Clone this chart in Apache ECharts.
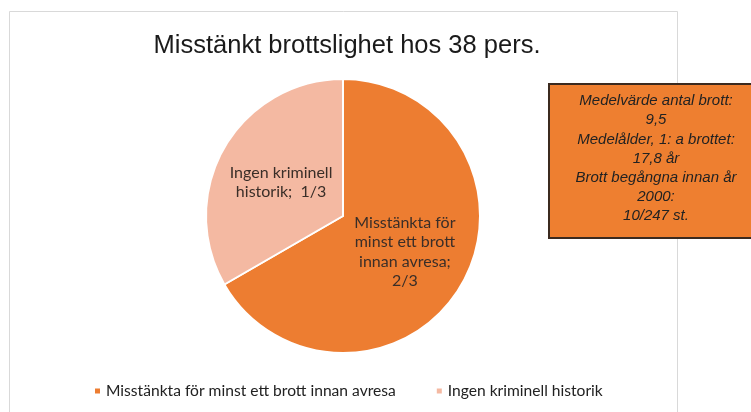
<!DOCTYPE html>
<html>
<head>
<meta charset="utf-8">
<script src="https://cdn.jsdelivr.net/npm/echarts@6/dist/echarts.min.js"></script>
<style>
  html, body { margin: 0; padding: 0; background: #fff; }
  #main { width: 751px; height: 412px; }
</style>
</head>
<body>
<div id="main"></div>
<script>
  // data
  const categories = ['Misstänkta för minst ett brott innan avresa', 'Ingen kriminell historik'];
  const values = [2, 1]; // 2/3 and 1/3 of the 38 persons
  const sliceLabels = [
    'Misstänkta för\nminst ett brott\ninnan avresa;\n2/3',
    'Ingen kriminell\nhistorik;  1/3'
  ];
  const colors = ['#ED7D31', '#F4B9A2'];
  const noteLines = [
    'Medelvärde antal brott:',
    '9,5',
    'Medelålder, 1: a brottet:',
    '17,8 år',
    'Brott begångna innan år',
    '2000:',
    '10/247 st.'
  ];

  const chart = echarts.init(document.getElementById('main'), null, { renderer: 'canvas' });

  // one text element per note line so every line is centred
  const noteTexts = noteLines.map((line, i) => ({
    type: 'text',
    x: 656,
    y: 101 + i * 19.2,
    z: 11,
    style: {
      text: line,
      textAlign: 'center',
      textVerticalAlign: 'middle',
      fontFamily: 'Liberation Sans',
      fontStyle: 'italic',
      fontSize: 15,
      fill: '#222'
    }
  }));

  const option = {
    backgroundColor: '#fff',
    animation: false,
    title: {
      text: 'Misstänkt brottslighet hos 38 pers.',
      left: 342,
      textAlign: 'center',
      top: 28,
      textStyle: {
        fontFamily: 'Liberation Sans',
        fontSize: 25.5,
        fontWeight: 'normal',
        color: '#1a1a1a'
      }
    },
    legend: {
      left: 88,
      top: 378,
      icon: 'rect',
      itemWidth: 7,
      itemHeight: 7,
      itemGap: 39,
      textStyle: {
        fontFamily: 'Lato',
        fontSize: 15.6,
        color: '#222'
      },
      data: categories
    },
    graphic: [
      {
        // light frame of the chart area
        type: 'rect',
        shape: { x: 9.5, y: 11.5, width: 668, height: 420 },
        style: { fill: 'none', stroke: '#d9d9d9', lineWidth: 1 },
        silent: true
      },
      {
        type: 'rect',
        shape: { x: 549, y: 84, width: 215, height: 154 },
        style: { fill: '#EE7F30', stroke: '#3b2a1f', lineWidth: 2 },
        z: 10
      }
    ].concat(noteTexts),
    series: [
      {
        type: 'pie',
        center: [343, 216],
        radius: 137,
        startAngle: 90,
        clockwise: true,
        avoidLabelOverlap: false,
        itemStyle: { borderColor: '#fff', borderWidth: 2 },
        label: {
          show: true,
          position: 'inside',
          fontFamily: 'Lato',
          fontSize: 16,
          lineHeight: 19.5,
          color: '#3a2e28',
          align: 'center',
          formatter: (p) => sliceLabels[p.dataIndex]
        },
        labelLine: { show: false },
        emphasis: { disabled: true },
        data: categories.map((name, i) => ({
          name: name,
          value: values[i],
          itemStyle: { color: colors[i] },
          label: i === 1 ? { offset: [0, 2] } : {}
        }))
      }
    ]
  };

  chart.setOption(option);
</script>
</body>
</html>
